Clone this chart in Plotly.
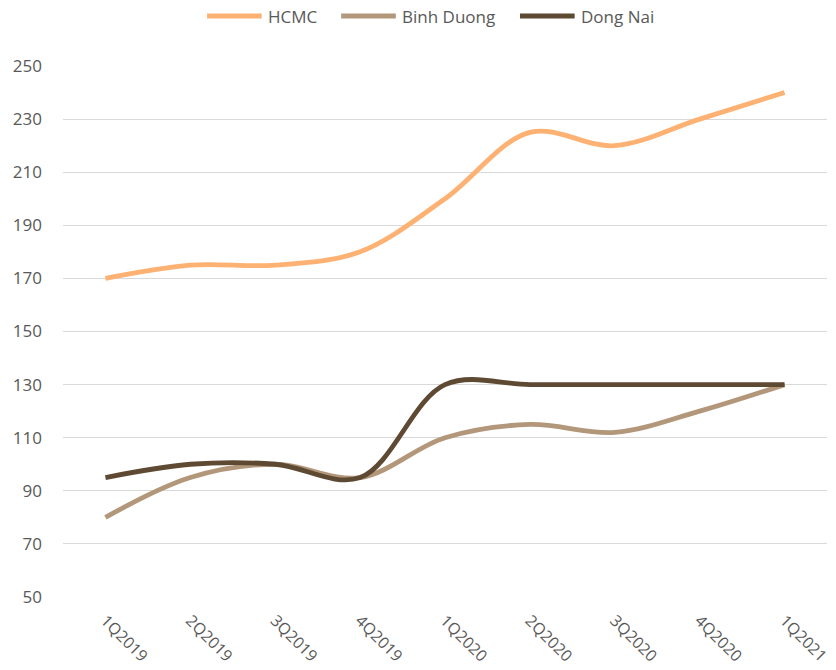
import plotly.graph_objects as go

quarters = ["1Q2019", "2Q2019", "3Q2019", "4Q2019", "1Q2020",
            "2Q2020", "3Q2020", "4Q2020", "1Q2021"]
hcmc = [170, 175, 175, 180, 200, 225, 220, 230, 240]
binh_duong = [80, 95, 100, 95, 110, 115, 112, 120, 130]
dong_nai = [95, 100, 100, 95, 130, 130, 130, 130, 130]

y_ticks = list(range(50, 251, 20))

series = [
    ("HCMC", hcmc, "#FDB173"),
    ("Binh Duong", binh_duong, "#B3977A"),
    ("Dong Nai", dong_nai, "#5E4933"),
]

W, H = 836, 670
M_L, M_R, M_T, M_B = 63, 4, 66, 72
plot_w = W - M_L - M_R
plot_h = H - M_T - M_B


def px_x(px):
    return (px - M_L) / plot_w


def px_y(py):
    return (H - M_B - py) / plot_h


fig = go.Figure()
for name, vals, color in series:
    fig.add_trace(go.Scatter(
        x=quarters, y=vals, name=name, mode="lines", showlegend=False,
        line=dict(color=color, width=4.8, shape="spline", smoothing=1.0),
    ))

# Legend row across the top: a swatch line followed by its label
legend_swatches = [208, 343, 523]  # left pixel of each swatch
swatch_len = 55
legend_y = 16
for (name, _, color), left in zip(series, legend_swatches):
    fig.add_shape(
        type="line", xref="paper", yref="paper",
        x0=px_x(left), x1=px_x(left + swatch_len),
        y0=px_y(legend_y), y1=px_y(legend_y),
        line=dict(color=color, width=5),
    )
    fig.add_annotation(
        xref="paper", yref="paper", x=px_x(left + swatch_len + 4),
        y=px_y(legend_y), text=name, showarrow=False,
        xanchor="left", yanchor="middle",
        font=dict(family="Open Sans, sans-serif", size=17, color="#595959"),
    )

font_family = "Open Sans, Liberation Sans, sans-serif"
fig.update_layout(
    width=W, height=H,
    margin=dict(l=M_L, r=M_R, t=M_T, b=M_B),
    paper_bgcolor="white", plot_bgcolor="white",
    font=dict(family=font_family, size=17, color="#595959"),
    showlegend=False,
)
fig.update_xaxes(
    type="category", tickangle=45, showgrid=False, zeroline=False,
    showline=False, tickfont=dict(size=16, color="#595959"),
    range=[-0.5, len(quarters) - 0.5], ticklabelstandoff=10,
)
fig.update_yaxes(
    range=[50, 250], tickvals=y_ticks, showgrid=True,
    gridcolor="#D9D9D9", gridwidth=1.3, zeroline=False, showline=False,
    tickfont=dict(size=17, color="#595959"), ticklabelstandoff=20,
)

fig.write_html("out.html")
